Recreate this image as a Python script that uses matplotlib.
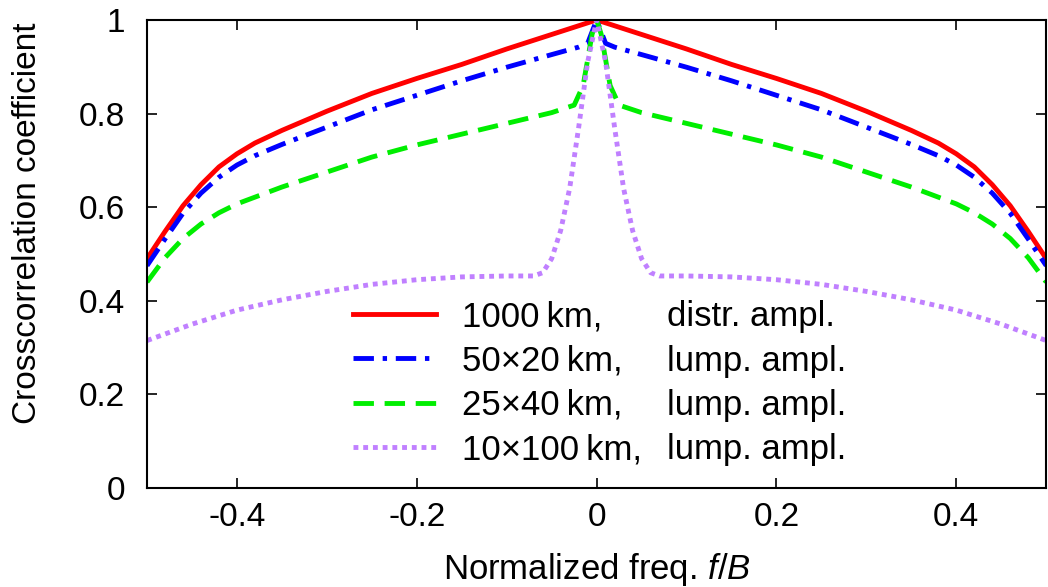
import matplotlib
matplotlib.use("Agg")
import matplotlib.pyplot as plt
from matplotlib.transforms import IdentityTransform

plt.rcParams['font.family'] = ['Liberation Sans', 'DejaVu Sans']
plt.rcParams['axes.unicode_minus'] = False
plt.rcParams['mathtext.fontset'] = 'custom'
plt.rcParams['mathtext.it'] = 'Liberation Sans:italic'
plt.rcParams['mathtext.rm'] = 'Liberation Sans'

# 1000 km, distributed amplification
f_red = [-0.50, -0.48, -0.46, -0.44, -0.42, -0.40, -0.38, -0.35, -0.30, -0.25, -0.20,
         -0.15, -0.10, -0.05, 0.0, 0.05, 0.10, 0.15, 0.20, 0.25, 0.30, 0.35, 0.38,
         0.40, 0.42, 0.44, 0.46, 0.48, 0.50]
rho_red = [0.49, 0.548, 0.603, 0.648, 0.686, 0.714, 0.737, 0.764, 0.805, 0.843, 0.875,
           0.905, 0.938, 0.969, 1.0, 0.969, 0.938, 0.905, 0.875, 0.843, 0.805, 0.764, 0.737,
           0.714, 0.686, 0.648, 0.603, 0.548, 0.49]

# 50x20 km, lumped amplification
f_blue = [-0.50, -0.48, -0.46, -0.44, -0.42, -0.40, -0.38, -0.35, -0.30, -0.25, -0.20,
          -0.15, -0.10, -0.05, -0.02, -0.01, 0.0, 0.01, 0.02, 0.05, 0.10, 0.15, 0.20,
          0.25, 0.30, 0.35, 0.38, 0.40, 0.42, 0.44, 0.46, 0.48, 0.50]
rho_blue = [0.475, 0.532, 0.587, 0.63, 0.664, 0.69, 0.71, 0.734, 0.771, 0.808, 0.839,
            0.87, 0.899, 0.926, 0.942, 0.95, 1.0, 0.95, 0.942, 0.926, 0.899, 0.87, 0.839,
            0.808, 0.771, 0.734, 0.71, 0.69, 0.664, 0.63, 0.587, 0.532, 0.475]

# 25x40 km, lumped amplification
f_green = [-0.50, -0.48, -0.46, -0.44, -0.42, -0.40, -0.35, -0.30, -0.25, -0.20, -0.15,
           -0.10, -0.05, -0.025, -0.015, -0.01, -0.005, 0.0, 0.005, 0.01, 0.015, 0.025,
           0.05, 0.10, 0.15, 0.20, 0.25, 0.30, 0.35, 0.40, 0.42, 0.44, 0.46, 0.48, 0.50]
rho_green = [0.44, 0.492, 0.533, 0.564, 0.588, 0.607, 0.643, 0.675, 0.707, 0.733, 0.756,
             0.779, 0.802, 0.818, 0.86, 0.915, 0.97, 1.0, 0.97, 0.915, 0.86, 0.818,
             0.802, 0.779, 0.756, 0.733, 0.707, 0.675, 0.643, 0.607, 0.588, 0.564, 0.533, 0.492, 0.44]

# 10x100 km, lumped amplification
f_purple = [-0.50, -0.45, -0.40, -0.35, -0.30, -0.25, -0.20, -0.15, -0.10, -0.07, -0.06,
            -0.05, -0.04, -0.03, -0.02, -0.01, 0.0, 0.01, 0.02, 0.03, 0.04, 0.05, 0.06,
            0.07, 0.10, 0.15, 0.20, 0.25, 0.30, 0.35, 0.40, 0.45, 0.50]
rho_purple = [0.315, 0.35, 0.38, 0.402, 0.42, 0.435, 0.445, 0.451, 0.453, 0.453, 0.46,
              0.49, 0.55, 0.64, 0.77, 0.91, 1.0, 0.91, 0.77, 0.64, 0.55, 0.49, 0.46,
              0.453, 0.453, 0.451, 0.445, 0.435, 0.42, 0.402, 0.38, 0.35, 0.315]

labels_len = ['1000\u2009km,', '50\u00d720\u2009km,', '25\u00d740\u2009km,', '10\u00d7100\u2009km,']
labels_amp = ['distr. ampl.', 'lump. ampl.', 'lump. ampl.', 'lump. ampl.']

xticks = [-0.4, -0.2, 0, 0.2, 0.4]
xticklabels = ['-0.4', '-0.2', '0', '0.2', '0.4']
yticks = [0, 0.2, 0.4, 0.6, 0.8, 1]
yticklabels = ['0', '0.2', '0.4', '0.6', '0.8', '1']

fs = 25

fig = plt.figure(figsize=(10.48, 5.87), dpi=100)
ax = fig.add_axes([0.1403, 0.1687, 0.858, 0.7973])

lw = 3.5
ax.plot(f_red, rho_red, color='#ff0000', lw=lw, label=labels_len[0])
ax.plot(f_blue, rho_blue, color='#0000ff', lw=lw, dashes=(4.2, 1.8, 0.9, 1.8),
        dash_capstyle='butt', label=labels_len[1])
ax.plot(f_green, rho_green, color='#00ee00', lw=lw, dashes=(4.2, 2.2),
        dash_capstyle='butt', label=labels_len[2])
ax.plot(f_purple, rho_purple, color='#c080ff', lw=lw, dashes=(1.0, 1.0),
        dash_capstyle='butt', label=labels_len[3])

ax.set_xlim(-0.5, 0.5)
ax.set_ylim(0, 1)
ax.set_xticks(xticks)
ax.set_xticklabels(xticklabels)
ax.set_yticks(yticks)
ax.set_yticklabels(yticklabels)
ax.tick_params(direction='in', length=7, width=1.2, labelsize=24,
               top=True, right=True)
ax.tick_params(axis='x', pad=10)
ax.tick_params(axis='y', pad=16)
for sp in ax.spines.values():
    sp.set_linewidth(1.5)

ax.set_xlabel('Normalized freq. $f$/$B$', fontsize=fs)
ax.xaxis.set_label_coords(0.5, -0.135)
ax.set_ylabel('Crosscorrelation coefficient', fontsize=24)
ax.yaxis.set_label_coords(-0.116, 0.566)

leg = ax.legend(loc='lower left', bbox_to_anchor=(0.229, 0.046), frameon=False,
                fontsize=fs, handlelength=2.4, handletextpad=0.75,
                labelspacing=0.33, borderaxespad=0, borderpad=0)

# second label column, aligned with the legend rows
fig.canvas.draw()
x_col = ax.transAxes.transform((0.578, 0))[0]
for t, s in zip(leg.get_texts(), labels_amp):
    bb = t.get_window_extent()
    ax.text(x_col, (bb.y0 + bb.y1) / 2, s, fontsize=fs, va='center', ha='left',
            transform=IdentityTransform())

fig.savefig('out.png', dpi=100)
